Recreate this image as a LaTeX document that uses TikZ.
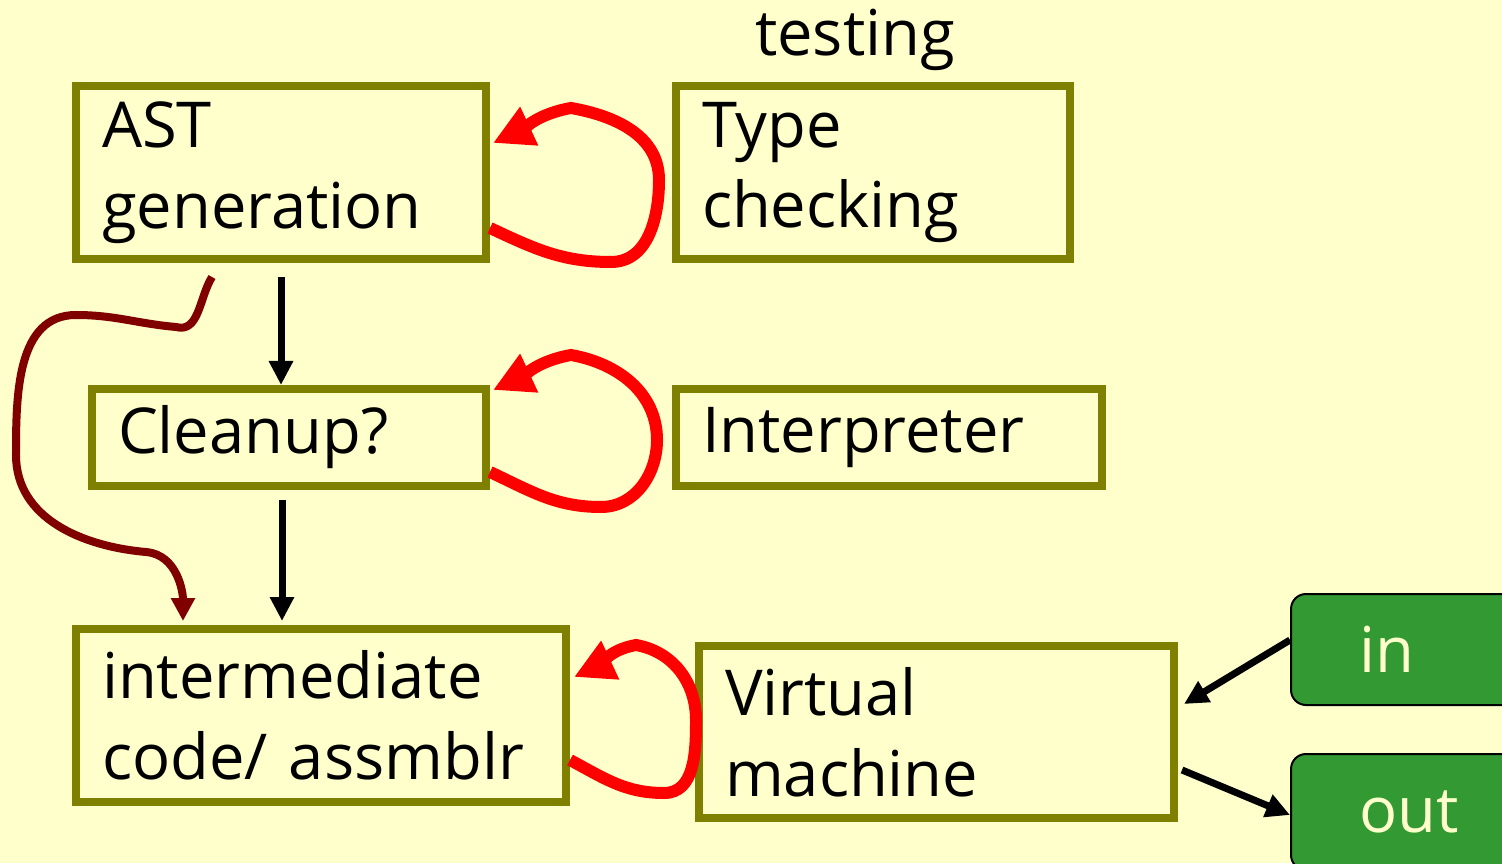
\documentclass[tikz,border=0pt]{standalone}
\usepackage{fontspec}
\setmainfont{Open Sans}
\usetikzlibrary{arrows.meta, positioning}
\definecolor{bgyellow}{HTML}{FFFFCC}
\definecolor{boxolive}{HTML}{808000}
\definecolor{vmgreen}{HTML}{339933}
\definecolor{darkred}{HTML}{800000}
\tikzset{
    block_olive/.style={rectangle, draw=boxolive, line width=0.08cm, inner xsep=0.26cm, align=left, font=\fontsize{18}{23}\selectfont},
    block_green/.style={rectangle, draw=black, line width=0.02cm, rounded corners=0.15cm, fill=vmgreen, text=bgyellow, inner xsep=0.68cm, text width=1.04cm, align=left, font=\fontsize{18}{23}\selectfont},
    arrow/.style={-{Triangle[length=0.24cm,width=0.23cm]}, line width=0.07cm},
    loop_arrow/.style={-{Triangle[length=0.4cm,width=0.4cm]}, line width=0.12cm, red},
    skip_arrow/.style={-{Triangle[length=0.23cm,width=0.23cm]}, line width=0.08cm, darkred}
}
\begin{document}
\begin{tikzpicture}
    \useasboundingbox[fill=bgyellow] (0,0) rectangle (15.02,8.63);
    \clip (0,0) rectangle (15.02,8.63);

    \node (ast) [block_olive, text width=3.58cm, minimum height=1.73cm] at (2.81,6.905) {AST\\generation};
    \node (type) [block_olive, right=1.82cm of ast, text width=3.42cm, minimum height=1.73cm] {Type\\checking};
    \node (tst) [font=\fontsize{18}{23}\selectfont] at (8.55,8.23) {testing};
    \node (clean) [block_olive, text width=3.42cm, minimum height=0.97cm] at (2.89,4.255) {Cleanup?};
    \node (interp) [block_olive, right=1.82cm of clean, text width=3.74cm, minimum height=0.97cm] {Interpreter};
    \node (inter) [block_olive, text width=4.38cm, minimum height=1.73cm] at (3.21,1.475) {intermediate\\code/ assmblr};
    \node (virt) [block_olive, text width=4.23cm, minimum height=1.72cm] at (9.365,1.31) {Virtual\\machine};
    \node (in) [block_green, minimum height=1.11cm] at (14.11,2.135) {in};
    \node (out) [block_green, minimum height=1.16cm] at (14.11,0.51) {out};

    % main flow
    \draw [arrow, shorten <=0.14cm] (ast.south) -- (ast.south |- clean.north);
    \draw [arrow, shorten <=0.1cm, shorten >=0.04cm] ([xshift=-0.07cm]clean.south) -- ([xshift=-0.07cm]clean.south |- inter.north);
    \draw [skip_arrow, shorten >=0.04cm] ([xshift=1.40cm,yshift=-0.14cm]ast.south west)
        to[out=-122,in=-15] ++(-0.36,-0.5)
        to[out=175,in=0] ++(-1.0,0.12)
        to[out=180,in=90] ++(-0.6,-1.4)
        to[out=-90,in=175] ++(1.3,-0.97)
        to[out=-5,in=90] ([xshift=1.11cm]inter.north west);

    % loops
    \draw [loop_arrow] ([yshift=-0.555cm]ast.east)
        to[out=-25,in=180] ++(1.21,-0.34)
        to[out=0,in=-90] ++(0.48,0.82)
        to[out=90,in=-10] ++(-0.88,0.72)
        to[out=190,in=25] ([xshift=0.03cm,yshift=0.295cm]ast.east);
    \draw [loop_arrow] ([yshift=-0.345cm]clean.east)
        to[out=-25,in=180] ++(1.11,-0.35)
        to[out=0,in=-90] ++(0.56,0.67)
        to[out=90,in=-10] ++(-0.86,0.85)
        to[out=190,in=25] ([xshift=0.03cm,yshift=0.475cm]clean.east);
    \draw [loop_arrow] ([yshift=-0.445cm]inter.east)
        to[out=-28,in=180] ++(0.94,-0.33)
        to[out=0,in=-90] ++(0.32,0.73)
        to[out=90,in=-10] ++(-0.6,0.75)
        to[out=190,in=25] ([xshift=0.04cm,yshift=0.385cm]inter.east);

    % machine i/o
    \draw [arrow] ([yshift=0.095cm]in.west) -- ([xshift=0.06cm,yshift=0.28cm]virt.east);
    \draw [arrow] ([xshift=0.04cm,yshift=-0.38cm]virt.east) -- ([yshift=-0.03cm]out.west);
\end{tikzpicture}
\end{document}
